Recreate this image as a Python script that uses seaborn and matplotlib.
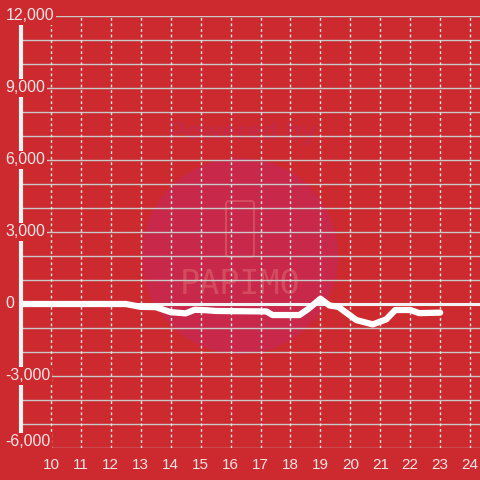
import matplotlib
matplotlib.use("Agg")
import matplotlib.pyplot as plt
import matplotlib.transforms as mtransforms
from matplotlib.patches import Circle, FancyBboxPatch
import numpy as np
import pandas as pd
import seaborn as sns

# hour of day vs value
hours = [9.0, 12.5, 13.0, 13.5, 14.0, 14.5, 14.8, 15.2, 15.5, 16.3, 17.2, 17.4,
         18.3, 18.6, 19.0, 19.3, 19.6, 20.2, 20.75, 21.2, 21.5, 22.0, 22.3, 23.0]
values = [0, 0, -120, -130, -340, -390, -240, -260, -290, -300, -310, -460,
          -460, -200, 220, -60, -120, -670, -850, -640, -250, -250, -380, -360]
x_ticks = list(range(10, 25))
y_labels = [12000, 9000, 6000, 3000, 0, -3000, -6000]

BG = "#cc2a2f"
TXT = "#f5e6e6"
GRID = "#c9c9c9"

sns.set_theme(style="white")
plt.rcParams['font.family'] = ['Liberation Sans', 'DejaVu Sans']

df = pd.DataFrame({'hour': hours, 'value': values})

fig = plt.figure(figsize=(4.8, 4.8), dpi=100, facecolor=BG)
ax = fig.add_axes([21 / 480, 32 / 480, 459 / 480, 432 / 480])
ax.set_facecolor(BG)

# faint watermark
fig_tr = fig.transFigure
ax.add_patch(Circle((0.5, 1 - 256 / 480), 98 / 480, transform=fig_tr,
                    facecolor="#c8284a", edgecolor="none", zorder=0.1, clip_on=False))
ax.text(0.505, 1 - 133 / 480, "Powered by", transform=fig_tr, ha="center", va="center",
        fontsize=19, fontweight="bold", color="#c42a45", zorder=0.2)
ax.text(0.5, 1 - 285 / 480, "PAPIMO", transform=fig_tr, ha="center", va="center",
        fontsize=24, color="#d44a5e", zorder=0.2, family=['DejaVu Sans Mono'])
ax.add_patch(FancyBboxPatch((226 / 480, 1 - 257 / 480), 28 / 480, 56 / 480,
                            boxstyle="round,pad=0,rounding_size=0.006", transform=fig_tr,
                            facecolor="none", edgecolor="#d44a5e", lw=1.5, zorder=0.2))

# grid
for yv in range(-6000, 12001, 1000):
    ax.axhline(yv, color=GRID, lw=1, zorder=1)
for xv in x_ticks:
    ax.axvline(xv, color="#e8e8e8", lw=1, ls=(0, (2, 2)), zorder=1)
ax.axhline(0, color="#f2f2f2", lw=2.2, zorder=2)

sns.lineplot(data=df, x='hour', y='value', ax=ax, color="white", lw=4.5,
             zorder=3, legend=False)

ax.set_xlim(9, 24.33)
ax.set_ylim(-6000, 12000)
ax.set_xticks(x_ticks)
ax.set_xticklabels([str(t) for t in x_ticks])
ax.tick_params(axis='x', length=0, pad=7, labelsize=11, labelcolor=TXT)
ax.set_yticks([])
ax.set_xlabel("")
ax.set_ylabel("")

for side in ["top", "right", "bottom"]:
    ax.spines[side].set_visible(False)
ax.spines["left"].set_color("#f2f2f2")
ax.spines["left"].set_linewidth(3)
ax.spines["left"].set_zorder(4)

# y labels sit over the axis line with a red backing
tr = mtransforms.blended_transform_factory(fig.transFigure, ax.transData)
for yv in y_labels:
    ypos = yv if yv > -6000 else -5740
    ax.text(5.5 / 480, ypos, f"{yv:,}", transform=tr, ha="left", va="center",
            fontsize=11.5, color=TXT, zorder=5, clip_on=False,
            bbox=dict(facecolor=BG, edgecolor="none", pad=1))

fig.savefig("out.png", dpi=100, facecolor=BG)
